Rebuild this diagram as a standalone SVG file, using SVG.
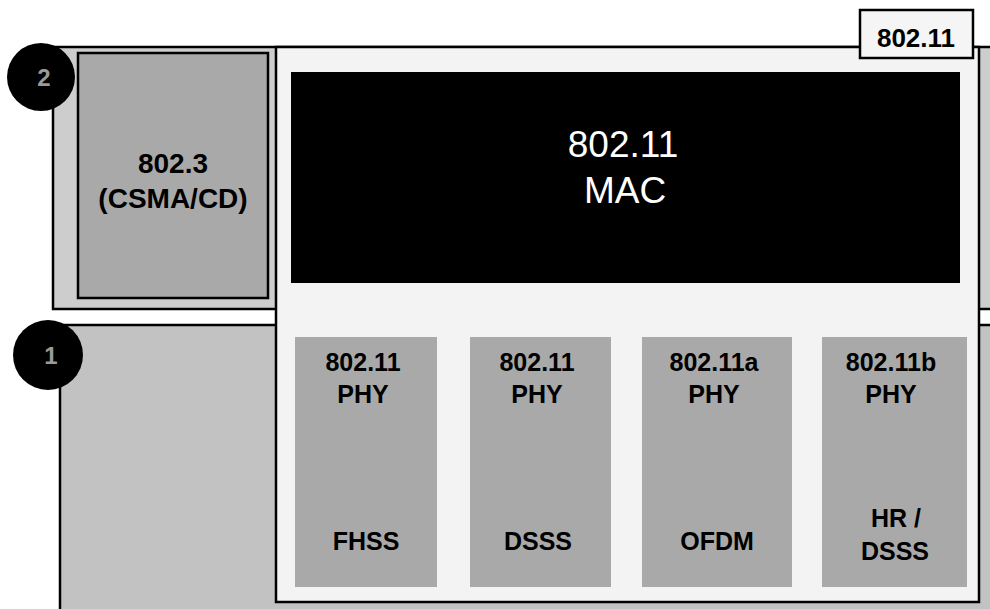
<svg xmlns="http://www.w3.org/2000/svg" width="990" height="609" viewBox="0 0 990 609">
  <style>
    .layer { stroke: #000; stroke-width: 2.5; }
    .box { fill: #a9a9a9; stroke: none; }
    .lbl { font-family: "Liberation Sans", Arial, sans-serif; font-weight: bold; fill: #000; text-anchor: middle; }
    .phy { font-size: 25px; }
    .mac { font-family: "Liberation Sans", Arial, sans-serif; font-size: 37px; fill: #fff; text-anchor: middle; }
    .badge { fill: #000; }
    .badgetxt { font-family: "Liberation Sans", Arial, sans-serif; font-weight: bold; font-size: 24px; fill: #9a9a9a; text-anchor: middle; }
  </style>
  <rect x="0" y="0" width="990" height="609" fill="#fff"/>

  <g id="layer2">
    <rect class="layer" x="53" y="47" width="960" height="262" fill="#cdcdcd"/>
  </g>
  <g id="box-8023">
    <rect x="78" y="53" width="190" height="245" fill="#a9a9a9" stroke="#000" stroke-width="2.5"/>
    <text class="lbl" x="173" y="173" font-size="28">802.3</text>
    <text class="lbl" x="173" y="208" font-size="28">(CSMA/CD)</text>
  </g>
  <g id="layer1">
    <rect class="layer" x="60" y="325" width="960" height="300" fill="#c2c2c2"/>
  </g>
  <g id="badge2">
    <circle class="badge" cx="41" cy="77" r="34"/>
    <text class="badgetxt" x="44" y="86">2</text>
  </g>
  <g id="badge1">
    <circle class="badge" cx="48" cy="355" r="35"/>
    <text class="badgetxt" x="51" y="364" font-size="22">1</text>
  </g>

  <g id="wlan-80211">
    <rect x="276" y="47" width="703" height="555" fill="#f3f3f3" stroke="#000" stroke-width="2.5"/>
  </g>
  <g id="label-80211">
    <rect x="860" y="10" width="113" height="48" fill="#f5f5f5" stroke="#000" stroke-width="2.5"/>
    <text class="lbl" x="916" y="47" font-size="26">802.11</text>
  </g>
  <g id="mac">
    <rect x="291" y="72" width="669" height="211" fill="#000"/>
    <text class="mac" x="623" y="157">802.11</text>
    <text class="mac" x="625" y="203">MAC</text>
  </g>
  <g id="phy1">
    <rect class="box" x="295" y="337" width="142" height="250"/>
    <text class="lbl phy" x="363" y="371">802.11</text>
    <text class="lbl phy" x="363" y="403">PHY</text>
    <text class="lbl phy" x="366" y="550">FHSS</text>
  </g>
  <g id="phy2">
    <rect class="box" x="470" y="337" width="141" height="250"/>
    <text class="lbl phy" x="537" y="371">802.11</text>
    <text class="lbl phy" x="537" y="403">PHY</text>
    <text class="lbl phy" x="538" y="550">DSSS</text>
  </g>
  <g id="phy3">
    <rect class="box" x="642" y="337" width="150" height="250"/>
    <text class="lbl phy" x="714" y="371">802.11a</text>
    <text class="lbl phy" x="714" y="403">PHY</text>
    <text class="lbl phy" x="717" y="550">OFDM</text>
  </g>
  <g id="phy4">
    <rect class="box" x="822" y="337" width="145" height="250"/>
    <text class="lbl phy" x="891" y="371">802.11b</text>
    <text class="lbl phy" x="891" y="403">PHY</text>
    <text class="lbl phy" x="896" y="527">HR /</text>
    <text class="lbl phy" x="895" y="560">DSSS</text>
  </g>
  <g id="connectors"/>
</svg>
